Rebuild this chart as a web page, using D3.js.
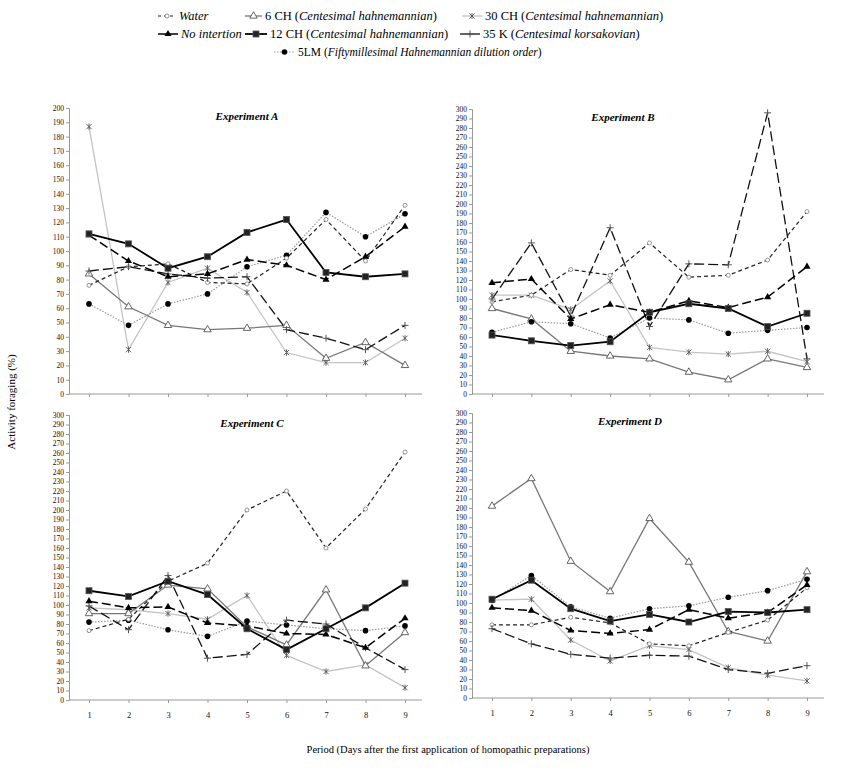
<!DOCTYPE html>
<html>
<head>
<meta charset="utf-8">
<script src="https://cdn.jsdelivr.net/npm/d3@7"></script>
<style>
  body { margin: 0; background: #fff; }
  svg { font-family: "Liberation Serif", "Times New Roman", serif; }
</style>
</head>
<body>
<div class="main"></div>
<script>
// Données
const periods = [1, 2, 3, 4, 5, 6, 7, 8, 9];
const seriesKeys = ['water', 'noInt', 'ch6', 'ch12', 'ch30', 'k35', 'lm5'];

// ordre : water, noInt, 6CH, 12CH, 30CH, 35K, 5LM
const expA = [
  [76, 89, 91, 78, 77, 95, 122, 93, 132],
  [111, 93, 82, 84, 94, 90, 80, 96, 117],
  [84, 61, 48, 45, 46, 48, 25, 36, 20],
  [112, 105, 88, 96, 113, 122, 85, 82, 84],
  [187, 31, 78, 88, 71, 29, 22, 22, 39],
  [86, 89, 84, 81, 82, 45, 39, 31, 48],
  [63, 48, 63, 70, 89, 97, 127, 110, 126]
];
const expB = [
  [97, 104, 131, 125, 159, 123, 125, 141, 192],
  [117, 121, 79, 94, 86, 98, 91, 102, 134],
  [90, 79, 45, 40, 37, 23, 15, 37, 28],
  [62, 56, 51, 55, 86, 95, 90, 71, 85],
  [104, 104, 89, 119, 49, 44, 42, 45, 34],
  [100, 159, 82, 175, 71, 137, 136, 296, 37],
  [65, 76, 74, 59, 80, 78, 64, 67, 70]
];
const expC = [
  [73, 85, 125, 144, 200, 220, 160, 201, 261],
  [104, 97, 98, 81, 78, 70, 69, 55, 86],
  [91, 91, 121, 117, 77, 58, 116, 36, 71],
  [115, 109, 125, 111, 75, 53, 75, 97, 123],
  [97, 95, 91, 85, 110, 47, 30, 37, 13],
  [99, 74, 131, 44, 48, 84, 80, 55, 32],
  [82, 84, 74, 67, 83, 79, 75, 73, 78]
];
const expD = [
  [77, 77, 85, 79, 57, 55, 69, 82, 116],
  [95, 92, 71, 68, 72, 93, 84, 90, 119],
  [202, 231, 144, 112, 189, 143, 70, 60, 133],
  [104, 124, 94, 81, 88, 80, 91, 90, 93],
  [103, 104, 61, 39, 55, 51, 32, 24, 18],
  [73, 57, 46, 42, 45, 44, 30, 26, 34],
  [103, 129, 96, 84, 94, 97, 106, 113, 125]
];

const yMaxA = 200;
const yMaxOther = 300;

// Styles des séries
const styles = {
  water: { stroke: '#222', dash: '4,3', width: 1.2, marker: 'circleOpen' },
  noInt: { stroke: '#000', dash: '9,4', width: 1.5, marker: 'triangle' },
  ch6:   { stroke: '#777', dash: null, width: 1.3, marker: 'triangleOpen' },
  ch12:  { stroke: '#000', dash: null, width: 1.8, marker: 'square' },
  ch30:  { stroke: '#c4c4c4', dash: null, width: 1.3, marker: 'asterisk' },
  k35:   { stroke: '#111', dash: '10,4', width: 1.3, marker: 'plus' },
  lm5:   { stroke: '#999', dash: '1.5,1.5', width: 1.2, marker: 'circle' }
};

const width = 850;
const height = 771;

const svg = d3.select('.main')
  .append('svg')
  .attr('width', width)
  .attr('height', height);

function drawMarker(g, type, x, y) {
  if (type === 'circleOpen') {
    g.append('circle').attr('cx', x).attr('cy', y).attr('r', 2)
      .attr('fill', '#fff').attr('stroke', '#888').attr('stroke-width', 0.9);
  } else if (type === 'circle') {
    g.append('circle').attr('cx', x).attr('cy', y).attr('r', 2.8).attr('fill', '#000');
  } else if (type === 'triangle') {
    g.append('path').attr('d', d3.symbol(d3.symbolTriangle, 22)())
      .attr('transform', `translate(${x},${y})`).attr('fill', '#000');
  } else if (type === 'triangleOpen') {
    g.append('path').attr('d', d3.symbol(d3.symbolTriangle, 24)())
      .attr('transform', `translate(${x},${y})`)
      .attr('fill', '#fff').attr('stroke', '#555').attr('stroke-width', 0.9);
  } else if (type === 'square') {
    g.append('rect').attr('x', x - 3).attr('y', y - 3).attr('width', 6).attr('height', 6)
      .attr('fill', '#222').attr('stroke', '#555').attr('stroke-width', 0.8);
  } else if (type === 'asterisk') {
    const s = 2.6;
    g.append('path')
      .attr('d', `M${x - s},${y - s}L${x + s},${y + s}M${x - s},${y + s}L${x + s},${y - s}M${x},${y - s - 0.5}L${x},${y + s + 0.5}`)
      .attr('stroke', '#555').attr('stroke-width', 0.9).attr('fill', 'none');
  } else if (type === 'plus') {
    const s = 3.5;
    g.append('path')
      .attr('d', `M${x - s},${y}L${x + s},${y}M${x},${y - s}L${x},${y + s}`)
      .attr('stroke', '#555').attr('stroke-width', 1).attr('fill', 'none');
  }
}

// Un panneau
function drawPanel(data, title, opts) {
  const x = d3.scalePoint()
    .domain(periods)
    .range([opts.left + 20, opts.right - 17]);

  const y = d3.scaleLinear()
    .domain([0, opts.yMax])
    .range([opts.bottom, opts.top]);

  const g = svg.append('g');

  // Axe vertical
  g.append('g')
    .attr('transform', `translate(${opts.left}, 0)`)
    .call(d3.axisLeft(y).tickValues(d3.range(0, opts.yMax + 1, 10)).tickSize(3).tickPadding(2))
    .call(a => a.attr('font-family', null))
    .call(a => a.select('.domain').attr('stroke', '#999'))
    .call(a => a.selectAll('.tick line').attr('stroke', '#999'))
    .call(a => a.selectAll('.tick text').attr('font-size', 7.5).attr('fill', '#111'));

  // Axe horizontal
  g.append('line')
    .attr('x1', opts.left).attr('x2', opts.right)
    .attr('y1', opts.bottom).attr('y2', opts.bottom)
    .attr('stroke', '#999');

  g.append('g')
    .attr('transform', `translate(0, ${opts.bottom})`)
    .call(d3.axisBottom(x).tickSize(3).tickPadding(9)
      .tickFormat(opts.labels ? d => d : () => ''))
    .call(a => a.attr('font-family', null))
    .call(a => a.select('.domain').remove())
    .call(a => a.selectAll('.tick line').attr('stroke', '#999'))
    .call(a => a.selectAll('.tick text').attr('font-size', 8.5).attr('fill', '#111'));

  // Titre
  g.append('text')
    .attr('x', opts.titleX)
    .attr('y', opts.top + 12)
    .attr('text-anchor', 'middle')
    .attr('font-size', 11)
    .attr('font-weight', 'bold')
    .attr('font-style', 'italic')
    .text(title);

  const line = d3.line()
    .x((d, i) => x(periods[i]))
    .y(d => y(d));

  // Lignes (ordre de dessin pour que les noires soient dessus)
  const order = [4, 2, 6, 0, 5, 1, 3];
  order.forEach(si => {
    const st = styles[seriesKeys[si]];
    g.append('path')
      .datum(data[si])
      .attr('d', line)
      .attr('fill', 'none')
      .attr('stroke', st.stroke)
      .attr('stroke-width', st.width)
      .attr('stroke-dasharray', st.dash);
  });
  order.forEach(si => {
    const st = styles[seriesKeys[si]];
    const mg = g.append('g');
    data[si].forEach((v, i) => drawMarker(mg, st.marker, x(periods[i]), y(v)));
  });
}

drawPanel(expA, 'Experiment A', { left: 69, right: 422, top: 108, bottom: 394, yMax: yMaxA, titleX: 247, labels: false });
drawPanel(expB, 'Experiment B', { left: 472, right: 824, top: 109, bottom: 394, yMax: yMaxOther, titleX: 623, labels: false });
drawPanel(expC, 'Experiment C', { left: 69, right: 422, top: 415, bottom: 700, yMax: yMaxOther, titleX: 252, labels: true });
drawPanel(expD, 'Experiment D', { left: 472, right: 824, top: 413, bottom: 698, yMax: yMaxOther, titleX: 630, labels: true });

// Libellés des axes
svg.append('text')
  .attr('transform', 'translate(15, 402) rotate(-90)')
  .attr('text-anchor', 'middle')
  .attr('font-size', 11)
  .text('Activity foraging (%)');

svg.append('text')
  .attr('x', 448)
  .attr('y', 753)
  .attr('text-anchor', 'middle')
  .attr('font-size', 10.5)
  .text('Period (Days after the first application of homopathic preparations)');

// Légende
const legendItems = [
  { key: 'water', x1: 158, x2: 176, y: 20, size: 12.5, parts: [['Water', true]] },
  { key: 'ch6', x1: 245, x2: 262, y: 20, size: 12.5, parts: [['6 CH (', false], ['Centesimal hahnemannian', true], [')', false]] },
  { key: 'ch30', x1: 462, x2: 482, y: 20, size: 12.5, parts: [['30 CH (', false], ['Centesimal hahnemannian', true], [')', false]] },
  { key: 'noInt', x1: 158, x2: 178, y: 38, size: 12.5, parts: [['No intertion', true]] },
  { key: 'ch12', x1: 245, x2: 267, y: 38, size: 12.5, parts: [['12 CH (', false], ['Centesimal hahnemannian', true], [')', false]] },
  { key: 'k35', x1: 460, x2: 480, y: 38, size: 12.5, parts: [['35 K (', false], ['Centesimal korsakovian', true], [')', false]] },
  { key: 'lm5', x1: 274, x2: 295, y: 56, size: 11.5, parts: [['5LM (', false], ['Fiftymillesimal Hahnemannian dilution order', true], [')', false]] }
];

const legend = svg.append('g');
legendItems.forEach(it => {
  const st = styles[it.key];
  legend.append('line')
    .attr('x1', it.x1).attr('x2', it.x2)
    .attr('y1', it.y - 4).attr('y2', it.y - 4)
    .attr('stroke', st.stroke)
    .attr('stroke-width', st.width)
    .attr('stroke-dasharray', it.key === 'water' ? '3,3' : (it.key === 'lm5' ? '1.5,1.5' : null));
  drawMarker(legend, st.marker, (it.x1 + it.x2) / 2, it.y - 4);
  const t = legend.append('text')
    .attr('x', it.x2 + 3)
    .attr('y', it.y)
    .attr('font-size', it.size);
  it.parts.forEach(p => {
    t.append('tspan').attr('font-style', p[1] ? 'italic' : 'normal').text(p[0]);
  });
});
</script>
</body>
</html>
